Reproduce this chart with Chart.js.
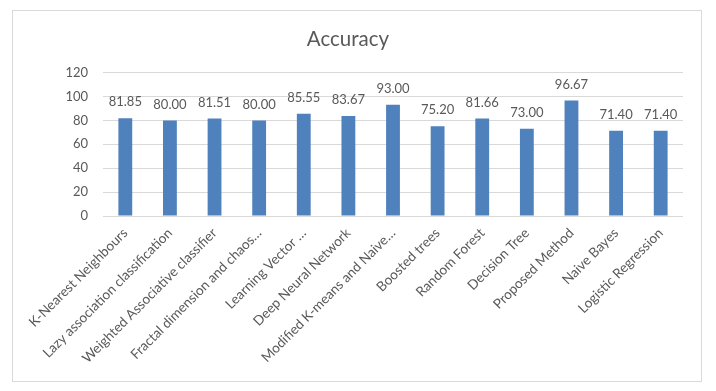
<!DOCTYPE html>
<html>
<head>
<meta charset="utf-8">
<script src="https://cdn.jsdelivr.net/npm/chart.js@4/dist/chart.umd.min.js"></script>
<style>
    body { margin: 0; background: #ffffff; }
    #frame {
        position: absolute;
        left: 12px;
        top: 10px;
        width: 690px;
        height: 372px;
        box-sizing: border-box;
        border: 1px solid #d9d9d9;
        background: #ffffff;
    }
</style>
</head>
<body>
<div id="frame"><canvas id="accuracy-graph"></canvas></div>
<script>
// Chart data
const methods = [
    'K-Nearest Neighbours',
    'Lazy association classification',
    'Weighted Associative classifier',
    'Fractal dimension and chaos…',
    'Learning Vector …',
    'Deep Neural Network',
    'Modified K-means and Naive…',
    'Boosted trees',
    'Random Forest',
    'Decision Tree',
    'Proposed Method',
    'Naive Bayes',
    'Logistic Regression'
];
const accuracy = [81.85, 80.00, 81.51, 80.00, 85.55, 83.67, 93.00, 75.20, 81.66, 73.00, 96.67, 71.40, 71.40];
const yTicks = [0, 20, 40, 60, 80, 100, 120];

const textColor = '#595959';
const fontName = 'Lato, "Liberation Sans", sans-serif';

// Simple plugin to write the value above each bar
const valueLabels = {
    id: 'valueLabels',
    afterDatasetsDraw(chart) {
        const c = chart.ctx;
        const meta = chart.getDatasetMeta(0);
        c.save();
        c.fillStyle = textColor;
        c.font = '13px ' + fontName;
        c.textAlign = 'center';
        c.textBaseline = 'middle';
        meta.data.forEach((bar, i) => {
            c.fillText(accuracy[i].toFixed(2), bar.x, bar.y - 16);
        });
        c.restore();
    }
};

const ctx = document.getElementById('accuracy-graph');

const graph = new Chart(ctx, {
    type: 'bar',
    data: {
        labels: methods,
        datasets: [{
            label: 'Accuracy',
            data: accuracy,
            backgroundColor: '#4f81bd',
            borderWidth: 0,
            categoryPercentage: 1,
            barPercentage: 0.31
        }]
    },
    plugins: [valueLabels],
    options: {
        responsive: true,
        maintainAspectRatio: false,
        animation: false,
        layout: {
            padding: { top: 0, right: 18, bottom: 0, left: 0 }
        },
        plugins: {
            legend: { display: false },
            tooltip: { enabled: false },
            title: {
                display: true,
                text: 'Accuracy',
                color: textColor,
                font: { family: fontName, size: 20.5, weight: 'normal' },
                padding: { top: 16, bottom: 21 }
            }
        },
        scales: {
            x: {
                grid: { display: false, drawTicks: false },
                border: { display: false },
                ticks: {
                    color: textColor,
                    font: { family: fontName, size: 13.6 },
                    minRotation: 45,
                    maxRotation: 45,
                    autoSkip: false,
                    padding: 9
                },
                afterFit(scale) {
                    scale.height = 165;
                }
            },
            y: {
                min: 0,
                max: 120,
                afterBuildTicks(scale) {
                    scale.ticks = yTicks.map(v => ({ value: v }));
                },
                grid: { color: '#d9d9d9', drawTicks: false },
                border: { display: false },
                ticks: {
                    color: textColor,
                    font: { family: fontName, size: 13 },
                    padding: 15
                },
                afterFit(scale) {
                    scale.width = 90;
                }
            }
        }
    }
});
</script>
</body>
</html>
